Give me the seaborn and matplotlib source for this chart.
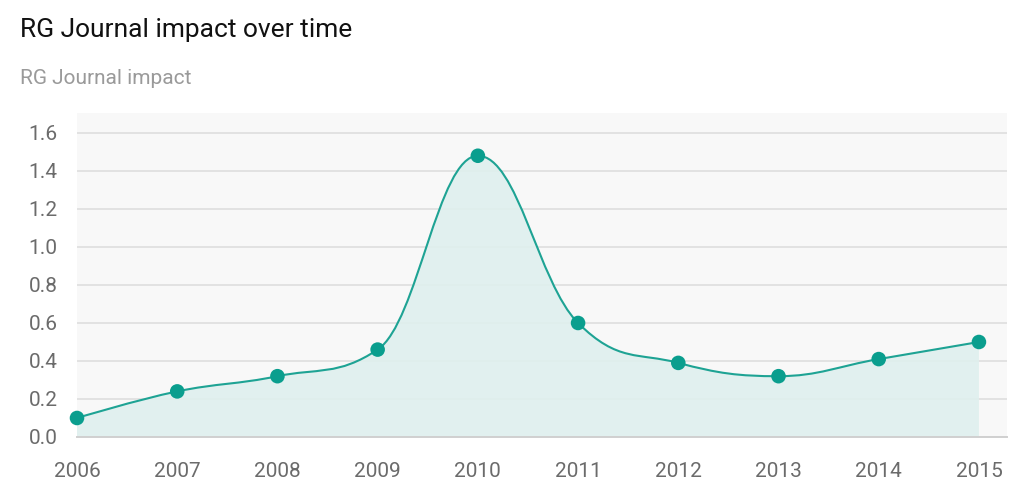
import numpy as np
import matplotlib
matplotlib.use("Agg")
import matplotlib.pyplot as plt
from matplotlib.path import Path
from matplotlib.patches import PathPatch
import seaborn as sns

# ── Data ──────────────────────────────────────────────────────
years = [2006, 2007, 2008, 2009, 2010, 2011, 2012, 2013, 2014, 2015]
impact = [0.10, 0.24, 0.32, 0.46, 1.48, 0.60, 0.39, 0.32, 0.41, 0.50]
y_ticks = [0.0, 0.2, 0.4, 0.6, 0.8, 1.0, 1.2, 1.4, 1.6]

TEAL = "#0a9e8e"
LINE = "#1ea394"
FILL = "#dff0ee"
GRID = "#dedede"
TICK_TXT = "#6b6b6b"

sns.set_theme(style="white")
plt.rcParams["font.family"] = ["Roboto", "DejaVu Sans"]


def spline_controls(xs, ys, smoothing=1.5):
    """Highcharts-style spline control points (drawing only)."""
    n = len(xs)
    left = [None] * n
    right = [None] * n
    denom = smoothing + 1
    for i in range(1, n - 1):
        lx, ly = xs[i - 1], ys[i - 1]
        px, py = xs[i], ys[i]
        nx, ny = xs[i + 1], ys[i + 1]
        lcx = (smoothing * px + lx) / denom
        lcy = (smoothing * py + ly) / denom
        rcx = (smoothing * px + nx) / denom
        rcy = (smoothing * py + ny) / denom
        corr = ((rcy - lcy) * (rcx - px)) / (rcx - lcx) + py - rcy
        lcy += corr
        rcy += corr
        # keep control points within the neighbour range
        if lcy < ly and lcy < py:
            lcy = min(ly, py)
            rcy = 2 * py - lcy
        elif lcy > ly and lcy > py:
            lcy = max(ly, py)
            rcy = 2 * py - lcy
        if rcy < ny and rcy < py:
            rcy = min(ny, py)
            lcy = 2 * py - rcy
        elif rcy > ny and rcy > py:
            rcy = max(ny, py)
            lcy = 2 * py - rcy
        left[i] = (lcx, lcy)
        right[i] = (rcx, rcy)
    verts = [(xs[0], ys[0])]
    codes = [Path.MOVETO]
    for i in range(1, n):
        c1 = right[i - 1] or (xs[i - 1], ys[i - 1])
        c2 = left[i] or (xs[i], ys[i])
        verts += [c1, c2, (xs[i], ys[i])]
        codes += [Path.CURVE4] * 3
    return verts, codes


fig = plt.figure(figsize=(10.24, 4.97), dpi=100)
fig.patch.set_facecolor("white")
ax = fig.add_axes([77 / 1024, 60 / 497, 930 / 1024, 324 / 497])
ax.set_facecolor("#f8f8f8")

verts, codes = spline_controls(years, impact)

# area under the spline
area_verts = verts + [(years[-1], 0), (years[0], 0), verts[0]]
area_codes = codes + [Path.LINETO, Path.LINETO, Path.CLOSEPOLY]
ax.add_patch(PathPatch(Path(area_verts, area_codes), facecolor=FILL,
                       edgecolor="none", alpha=0.9, zorder=2))
ax.add_patch(PathPatch(Path(verts, codes), facecolor="none",
                       edgecolor=LINE, lw=1.5, zorder=3))

sns.scatterplot(x=years, y=impact, ax=ax, color=TEAL, s=110,
                edgecolor="none", zorder=4, clip_on=False)

ax.set_xlim(years[0], years[-1] + 0.28)
ax.set_ylim(0, 1.705)
ax.set_xticks(years)
ax.set_xticklabels([str(y) for y in years])
ax.set_yticks(y_ticks)
ax.set_yticklabels([f"{v:.1f}" for v in y_ticks])
ax.grid(axis="y", color=GRID, lw=1.2, zorder=1)
ax.set_axisbelow(True)

for side in ["top", "right", "left"]:
    ax.spines[side].set_visible(False)
ax.spines["bottom"].set_color("#d0d0d0")
ax.spines["bottom"].set_linewidth(1.4)

ax.tick_params(axis="x", length=10, width=1.2, color="#d0d0d0",
               labelsize=15, labelcolor=TICK_TXT, pad=8)
ax.tick_params(axis="y", length=0, labelsize=15, labelcolor=TICK_TXT, pad=14)
ax.set_xlabel("")
ax.set_ylabel("")

fig.text(20 / 1024, 1 - 30 / 497, "RG Journal impact over time",
         fontsize=19, color="#111111", va="center", ha="left")
fig.text(20 / 1024, 1 - 78 / 497, "RG Journal impact",
         fontsize=15, color="#9a9a9a", va="center", ha="left")

plt.savefig("out.png", dpi=100, facecolor="white")
plt.close()
